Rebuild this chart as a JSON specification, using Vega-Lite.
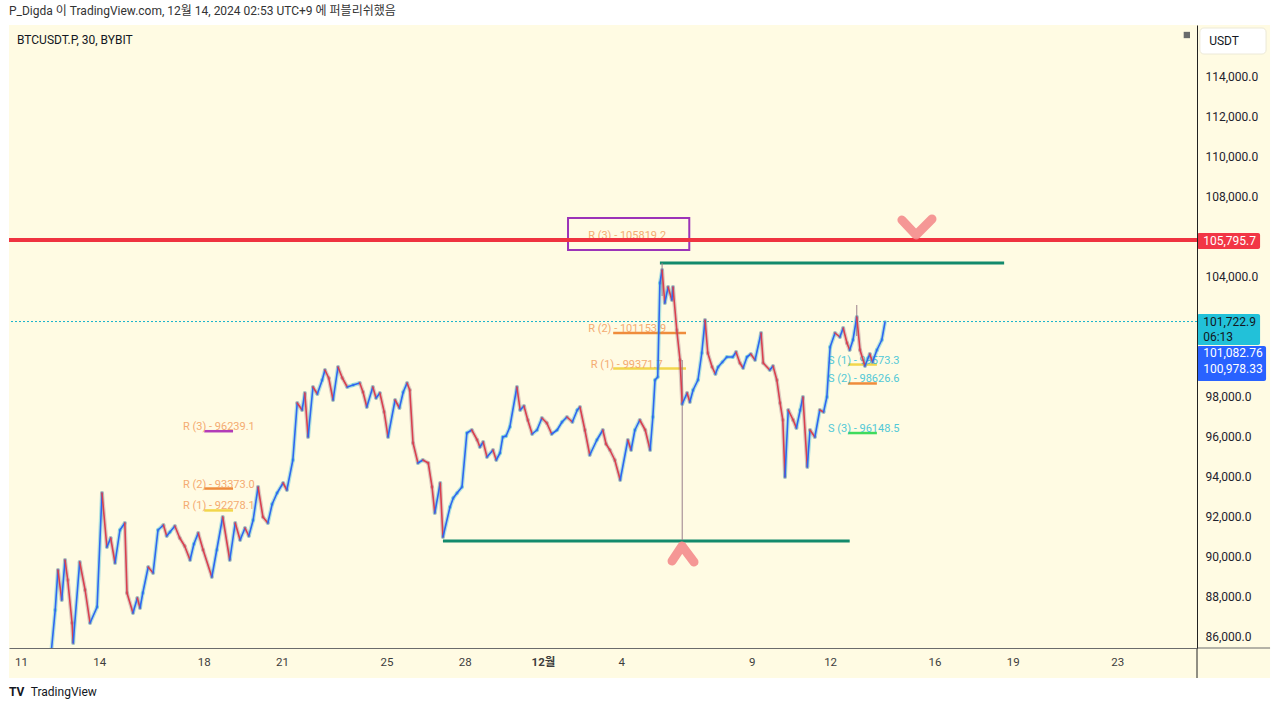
{
  "$schema": "https://vega.github.io/schema/vega-lite/v6.json",
  "width": 1188,
  "height": 623,
  "autosize": {"type": "none"},
  "padding": {"left": 9, "top": 25, "right": 83, "bottom": 61},
  "background": "#ffffff",
  "config": {
    "view": {"stroke": null, "fill": "#fffbe3"},
    "font": "Roboto, 'Noto Sans CJK KR', sans-serif",
    "axis": {"grid": false, "ticks": false, "tickSize": 0, "labelOverlap": false, "labelFlush": false}
  },
  "title": {
    "text": "P_Digda 이 TradingView.com, 12월 14, 2024 02:53 UTC+9 에 퍼블리쉬했음",
    "anchor": "start", "frame": "group", "offset": 7, "fontSize": 12, "fontWeight": "normal",
    "color": "#333333", "font": "Roboto, 'Noto Sans CJK KR', sans-serif"
  },
  "datasets": {
    "price": [
      {"t":"2024-11-10T12:00","p":79500},{"t":"2024-11-11T00:00","p":80800},{"t":"2024-11-11T08:00","p":81700},
      {"t":"2024-11-11T16:00","p":83300},{"t":"2024-11-11T23:00","p":84300},{"t":"2024-11-12T03:30","p":85000},
      {"t":"2024-11-12T07:30","p":87300},{"t":"2024-11-12T10:00","p":89300},{"t":"2024-11-12T13:30","p":87800},
      {"t":"2024-11-12T16:30","p":89800},{"t":"2024-11-12T19:00","p":88800},{"t":"2024-11-12T23:00","p":86650},
      {"t":"2024-11-13T00:00","p":85650},{"t":"2024-11-13T06:00","p":89700},{"t":"2024-11-13T11:00","p":88300},
      {"t":"2024-11-13T15:30","p":86650},{"t":"2024-11-13T22:00","p":87450},{"t":"2024-11-14T02:30","p":93150},
      {"t":"2024-11-14T07:00","p":90450},{"t":"2024-11-14T10:30","p":90900},{"t":"2024-11-14T14:30","p":89650},
      {"t":"2024-11-14T19:00","p":91300},{"t":"2024-11-14T23:30","p":91650},{"t":"2024-11-15T01:30","p":88150},
      {"t":"2024-11-15T07:00","p":87150},{"t":"2024-11-15T11:00","p":87900},{"t":"2024-11-15T13:30","p":87400},
      {"t":"2024-11-15T16:00","p":88150},{"t":"2024-11-15T21:00","p":89450},{"t":"2024-11-16T01:30","p":89150},
      {"t":"2024-11-16T06:00","p":91300},{"t":"2024-11-16T11:00","p":91550},{"t":"2024-11-16T14:00","p":91000},
      {"t":"2024-11-16T17:00","p":91200},{"t":"2024-11-16T21:30","p":91500},{"t":"2024-11-17T02:00","p":90900},
      {"t":"2024-11-17T06:30","p":90500},{"t":"2024-11-17T11:30","p":89800},{"t":"2024-11-17T15:00","p":90600},
      {"t":"2024-11-17T19:00","p":91150},{"t":"2024-11-17T23:30","p":90300},{"t":"2024-11-18T07:30","p":88950},
      {"t":"2024-11-18T12:00","p":90300},{"t":"2024-11-18T17:30","p":91950},{"t":"2024-11-19T00:00","p":89800},
      {"t":"2024-11-19T05:00","p":91650},{"t":"2024-11-19T09:30","p":90800},{"t":"2024-11-19T14:00","p":91400},
      {"t":"2024-11-19T17:30","p":91000},{"t":"2024-11-19T21:30","p":91800},{"t":"2024-11-20T02:00","p":93450},
      {"t":"2024-11-20T06:30","p":91950},{"t":"2024-11-20T11:00","p":91650},{"t":"2024-11-20T15:00","p":92600},
      {"t":"2024-11-20T19:30","p":93150},{"t":"2024-11-21T01:00","p":93650},{"t":"2024-11-21T04:30","p":93300},
      {"t":"2024-11-21T10:00","p":94800},{"t":"2024-11-21T14:00","p":97650},{"t":"2024-11-21T18:30","p":97300},
      {"t":"2024-11-21T21:00","p":98150},{"t":"2024-11-22T00:00","p":95950},{"t":"2024-11-22T04:30","p":98450},
      {"t":"2024-11-22T08:30","p":98100},{"t":"2024-11-22T13:00","p":98800},{"t":"2024-11-22T15:30","p":99300},
      {"t":"2024-11-22T19:00","p":98900},{"t":"2024-11-22T23:00","p":97800},{"t":"2024-11-23T03:30","p":99450},
      {"t":"2024-11-23T07:30","p":98900},{"t":"2024-11-23T12:00","p":98450},{"t":"2024-11-23T17:30","p":98550},
      {"t":"2024-11-23T23:30","p":98650},{"t":"2024-11-24T02:30","p":98200},{"t":"2024-11-24T06:00","p":97450},
      {"t":"2024-11-24T11:30","p":98450},{"t":"2024-11-24T14:30","p":97900},{"t":"2024-11-24T18:00","p":98150},
      {"t":"2024-11-24T22:00","p":97200},{"t":"2024-11-25T01:30","p":95950},{"t":"2024-11-25T08:00","p":97800},
      {"t":"2024-11-25T12:00","p":97400},{"t":"2024-11-25T15:30","p":98200},{"t":"2024-11-25T19:00","p":98650},
      {"t":"2024-11-25T21:30","p":98300},{"t":"2024-11-26T00:30","p":95650},{"t":"2024-11-26T05:00","p":94650},
      {"t":"2024-11-26T09:30","p":94800},{"t":"2024-11-26T14:30","p":94650},{"t":"2024-11-26T18:00","p":93450},
      {"t":"2024-11-26T20:30","p":92150},{"t":"2024-11-27T01:30","p":93650},{"t":"2024-11-27T04:00","p":90950},
      {"t":"2024-11-27T10:30","p":92450},{"t":"2024-11-27T13:30","p":92900},{"t":"2024-11-27T17:00","p":93150},
      {"t":"2024-11-27T21:30","p":93450},{"t":"2024-11-28T02:00","p":96150},{"t":"2024-11-28T06:30","p":96300},
      {"t":"2024-11-28T11:30","p":95800},{"t":"2024-11-28T14:00","p":95450},{"t":"2024-11-28T17:00","p":95700},
      {"t":"2024-11-28T20:30","p":94950},{"t":"2024-11-29T02:00","p":95300},{"t":"2024-11-29T05:00","p":94800},
      {"t":"2024-11-29T08:30","p":95150},{"t":"2024-11-29T11:00","p":95950},{"t":"2024-11-29T14:00","p":96000},
      {"t":"2024-11-29T17:30","p":96450},{"t":"2024-11-30T00:00","p":98450},{"t":"2024-11-30T03:00","p":97300},
      {"t":"2024-11-30T06:30","p":97500},{"t":"2024-11-30T10:00","p":96800},{"t":"2024-11-30T14:00","p":96100},
      {"t":"2024-11-30T18:30","p":96300},{"t":"2024-11-30T23:00","p":96900},{"t":"2024-12-01T03:30","p":96650},
      {"t":"2024-12-01T08:00","p":96100},{"t":"2024-12-01T13:00","p":96300},{"t":"2024-12-01T17:30","p":96700},
      {"t":"2024-12-01T22:00","p":96950},{"t":"2024-12-02T03:00","p":96700},{"t":"2024-12-02T07:30","p":97300},
      {"t":"2024-12-02T10:00","p":97450},{"t":"2024-12-02T14:30","p":96300},{"t":"2024-12-02T19:00","p":95050},
      {"t":"2024-12-03T01:30","p":95800},{"t":"2024-12-03T07:00","p":96300},{"t":"2024-12-03T10:00","p":95600},
      {"t":"2024-12-03T13:30","p":95300},{"t":"2024-12-03T18:00","p":94800},{"t":"2024-12-03T23:00","p":93800},
      {"t":"2024-12-04T06:00","p":95800},{"t":"2024-12-04T09:00","p":95300},{"t":"2024-12-04T12:30","p":96300},
      {"t":"2024-12-04T17:00","p":96800},{"t":"2024-12-04T22:00","p":96300},{"t":"2024-12-05T02:30","p":95300},
      {"t":"2024-12-05T05:00","p":96950},{"t":"2024-12-05T07:00","p":98800},{"t":"2024-12-05T09:30","p":98950},
      {"t":"2024-12-05T11:30","p":103650},{"t":"2024-12-05T13:30","p":104300},{"t":"2024-12-05T16:00","p":102650},
      {"t":"2024-12-05T19:00","p":103450},{"t":"2024-12-05T22:30","p":102800},{"t":"2024-12-05T23:30","p":103450},
      {"t":"2024-12-06T03:00","p":101300},{"t":"2024-12-06T06:00","p":99800},{"t":"2024-12-06T08:00","p":97600},
      {"t":"2024-12-06T12:30","p":98150},{"t":"2024-12-06T15:00","p":97700},{"t":"2024-12-06T18:00","p":98300},
      {"t":"2024-12-06T22:30","p":98800},{"t":"2024-12-07T02:00","p":100150},{"t":"2024-12-07T05:00","p":101800},
      {"t":"2024-12-07T07:30","p":100150},{"t":"2024-12-07T11:30","p":99450},{"t":"2024-12-07T14:30","p":99100},
      {"t":"2024-12-07T17:00","p":99450},{"t":"2024-12-07T21:00","p":99700},{"t":"2024-12-08T01:00","p":99950},
      {"t":"2024-12-08T06:30","p":99950},{"t":"2024-12-08T09:30","p":100200},{"t":"2024-12-08T13:00","p":99650},
      {"t":"2024-12-08T16:00","p":99400},{"t":"2024-12-08T19:30","p":99950},{"t":"2024-12-08T23:00","p":100100},
      {"t":"2024-12-09T03:00","p":99800},{"t":"2024-12-09T08:30","p":101150},{"t":"2024-12-09T10:30","p":99650},
      {"t":"2024-12-09T16:30","p":99300},{"t":"2024-12-09T19:30","p":99500},{"t":"2024-12-09T23:00","p":98800},
      {"t":"2024-12-10T02:00","p":97650},{"t":"2024-12-10T04:30","p":96800},{"t":"2024-12-10T06:30","p":93950},
      {"t":"2024-12-10T09:30","p":97300},{"t":"2024-12-10T14:00","p":96800},{"t":"2024-12-10T17:00","p":96400},
      {"t":"2024-12-10T20:30","p":97300},{"t":"2024-12-10T23:00","p":97950},{"t":"2024-12-11T03:00","p":94450},
      {"t":"2024-12-11T05:30","p":96300},{"t":"2024-12-11T10:00","p":95950},{"t":"2024-12-11T14:30","p":97300},
      {"t":"2024-12-11T18:00","p":97200},{"t":"2024-12-11T21:00","p":97950},{"t":"2024-12-12T00:00","p":100450},
      {"t":"2024-12-12T04:30","p":101150},{"t":"2024-12-12T09:00","p":100950},{"t":"2024-12-12T12:00","p":101400},
      {"t":"2024-12-12T15:30","p":100650},{"t":"2024-12-12T18:00","p":100300},{"t":"2024-12-12T21:00","p":100800},
      {"t":"2024-12-13T00:30","p":101950},{"t":"2024-12-13T03:30","p":100300},{"t":"2024-12-13T08:00","p":99500},
      {"t":"2024-12-13T12:30","p":100100},{"t":"2024-12-13T15:00","p":99700},{"t":"2024-12-13T19:00","p":100300},
      {"t":"2024-12-13T23:30","p":100800},{"t":"2024-12-14T02:30","p":101700}
    ],
    "wicks": [
      {"t":"2024-12-05T13:30","lo":103000,"hi":104650},
      {"t":"2024-12-06T08:00","lo":90800,"hi":99800},
      {"t":"2024-12-13T00:30","lo":101000,"hi":102550}
    ],
    "pivots": [
      {"label":"R (3) - 96239.1","key":"R3","side":"R","tt":"2024-11-17T05:00","t1":"2024-11-18T00:30","t2":"2024-11-19T03:00","p":96239.1},
      {"label":"R (2) - 93373.0","key":"R2","side":"R","tt":"2024-11-17T05:00","t1":"2024-11-18T00:30","t2":"2024-11-19T03:00","p":93373.0},
      {"label":"R (1) - 92278.1","key":"R1","side":"R","tt":"2024-11-17T05:00","t1":"2024-11-18T00:30","t2":"2024-11-19T03:00","p":92278.1},
      {"label":"R (3) - 105819.2","key":"R3","side":"R","tt":"2024-12-02T17:30","t1":"2024-12-03T16:30","t2":"2024-12-06T11:30","p":105819.2},
      {"label":"R (2) - 101153.9","key":"R2","side":"R","tt":"2024-12-02T17:30","t1":"2024-12-03T16:30","t2":"2024-12-06T11:30","p":101153.9},
      {"label":"R (1) - 99371.7","key":"R1","side":"R","tt":"2024-12-02T20:00","t1":"2024-12-03T16:30","t2":"2024-12-06T11:30","p":99371.7},
      {"label":"S (1) - 99573.3","key":"S1","side":"S","tt":"2024-12-11T22:00","t1":"2024-12-12T16:30","t2":"2024-12-13T19:00","p":99573.3},
      {"label":"S (2) - 98626.6","key":"S2","side":"S","tt":"2024-12-11T22:00","t1":"2024-12-12T16:30","t2":"2024-12-13T19:00","p":98626.6},
      {"label":"S (3) - 96148.5","key":"S3","side":"S","tt":"2024-12-11T22:00","t1":"2024-12-12T16:30","t2":"2024-12-13T19:00","p":96148.5}
    ],
    "zones": [
      {"t1":"2024-12-05T11:30","t2":"2024-12-18T16:00","p":104650},
      {"t1":"2024-11-27T04:00","t2":"2024-12-12T18:00","p":90750}
    ],
    "arrows": [
      {"g":"down","t":"2024-12-14T18:00","p":106800},
      {"g":"down","t":"2024-12-15T07:00","p":106050},
      {"g":"down","t":"2024-12-15T21:40","p":106850},
      {"g":"up","t":"2024-12-05T22:40","p":89750},
      {"g":"up","t":"2024-12-06T07:50","p":90500},
      {"g":"up","t":"2024-12-06T18:50","p":89700}
    ],
    "badges": [
      {"k":"red","t1":"2024-12-26T01:20","t2":"2024-12-28T11:20","top":106150,"bot":105350},
      {"k":"cyan","t1":"2024-12-26T01:20","t2":"2024-12-28T11:20","top":102100,"bot":100550},
      {"k":"blue","t1":"2024-12-26T01:20","t2":"2024-12-28T16:50","top":100500,"bot":98750}
    ],
    "tags": [
      {"txt":"105,795.7","t":"2024-12-26T07:00","p":105750,"k":"w"},
      {"txt":"101,722.9","t":"2024-12-26T07:00","p":101700,"k":"d"},
      {"txt":"06:13","t":"2024-12-26T07:00","p":100950,"k":"d"},
      {"txt":"101,082.76","t":"2024-12-26T07:00","p":100150,"k":"w"},
      {"txt":"100,978.33","t":"2024-12-26T07:00","p":99350,"k":"w"}
    ]
  },
  "layer": [
    {
      "data": {"values": [{"t1":"2024-11-10T13:00","t2":"2024-12-28T20:30","p1":83900,"p2":116550}]},
      "mark": {"type": "rect", "fill": "#fffbe3", "clip": false},
      "encoding": {
        "x": {"field": "t1", "type": "temporal"},
        "x2": {"field": "t2"},
        "y": {"field": "p1", "type": "quantitative"},
        "y2": {"field": "p2"}
      }
    },
    {
      "data": {"values": [{"p": 101722.9}]},
      "mark": {"type": "rule", "stroke": "#17b3cc", "strokeWidth": 1, "strokeDash": [2, 2]},
      "encoding": {"y": {"field": "p", "type": "quantitative"}}
    },
    {
      "data": {"values": [{"t1":"2024-12-01T23:00","t2":"2024-12-06T14:30","p1":105300,"p2":106900}]},
      "mark": {"type": "rect", "fillOpacity": 0, "stroke": "#9c33b8", "strokeWidth": 2},
      "encoding": {
        "x": {"field": "t1", "type": "temporal"},
        "x2": {"field": "t2"},
        "y": {"field": "p1", "type": "quantitative"},
        "y2": {"field": "p2"}
      }
    },
    {
      "data": {"name": "pivots"},
      "mark": {"type": "rule", "strokeWidth": 2.5},
      "encoding": {
        "x": {"field": "t1", "type": "temporal"},
        "x2": {"field": "t2"},
        "y": {"field": "p", "type": "quantitative"},
        "stroke": {"field": "key", "type": "nominal", "legend": null,
          "scale": {"domain": ["R3", "R2", "R1", "S1", "S2", "S3"], "range": ["#b23cb8", "#ef8c3c", "#f2d64b", "#f2d64b", "#ef8c3c", "#3fdb5c"]}}
      }
    },
    {
      "data": {"name": "pivots"},
      "mark": {"type": "text", "align": "left", "baseline": "alphabetic", "dy": -1, "fontSize": 11, "font": "Roboto, sans-serif", "opacity": 0.9},
      "encoding": {
        "x": {"field": "tt", "type": "temporal"},
        "y": {"field": "p", "type": "quantitative"},
        "text": {"field": "label", "type": "nominal"},
        "fill": {"field": "side", "type": "nominal", "legend": null, "scale": {"domain": ["R", "S"], "range": ["#f4a366", "#3ec4d6"]}}
      }
    },
    {
      "data": {"name": "zones"},
      "mark": {"type": "rule", "stroke": "#138a6c", "strokeWidth": 3},
      "encoding": {
        "x": {"field": "t1", "type": "temporal"},
        "x2": {"field": "t2"},
        "y": {"field": "p", "type": "quantitative"}
      }
    },
    {
      "data": {"name": "wicks"},
      "mark": {"type": "rule", "stroke": "#9a7f8c", "strokeWidth": 1, "clip": true},
      "encoding": {
        "x": {"field": "t", "type": "temporal"},
        "y": {"field": "lo", "type": "quantitative"},
        "y2": {"field": "hi"}
      }
    },
    {
      "data": {"name": "price"},
      "transform": [
        {"window": [{"op": "lead", "field": "p", "as": "p2"}, {"op": "lead", "field": "t", "as": "t2"}], "sort": [{"field": "t"}]},
        {"filter": "datum.p2 != null"}
      ],
      "mark": {"type": "rule", "strokeWidth": 4, "clip": true, "strokeCap": "round", "opacity": 0.35},
      "encoding": {
        "x": {"field": "t", "type": "temporal"},
        "x2": {"field": "t2"},
        "y": {"field": "p", "type": "quantitative"},
        "y2": {"field": "p2"},
        "color": {"condition": {"test": "datum.p2 >= datum.p", "value": "#22b5d0"}, "value": "#9a7480"}
      }
    },
    {
      "data": {"name": "price"},
      "transform": [
        {"window": [{"op": "lead", "field": "p", "as": "p2"}, {"op": "lead", "field": "t", "as": "t2"}], "sort": [{"field": "t"}]},
        {"filter": "datum.p2 != null"}
      ],
      "mark": {"type": "rule", "strokeWidth": 1.6, "clip": true, "strokeCap": "round"},
      "encoding": {
        "x": {"field": "t", "type": "temporal",
          "scale": {"domain": [{"year": 2024, "month": "nov", "date": 10, "hours": 13}, {"year": 2024, "month": "dec", "date": 26, "hours": 1, "minutes": 20}], "nice": false},
          "axis": {"title": null, "orient": "bottom", "zindex": 2, "domainColor": "#6b6b6b", "domainWidth": 1,
            "labelColor": "#3d3d3d", "labelFontSize": 11.5, "labelPadding": 8, "labelFont": "Roboto, 'Noto Sans CJK KR', sans-serif",
            "values": [
              {"year": 2024, "month": "nov", "date": 11}, {"year": 2024, "month": "nov", "date": 14},
              {"year": 2024, "month": "nov", "date": 18}, {"year": 2024, "month": "nov", "date": 21},
              {"year": 2024, "month": "nov", "date": 25}, {"year": 2024, "month": "nov", "date": 28},
              {"year": 2024, "month": "dec", "date": 1}, {"year": 2024, "month": "dec", "date": 4},
              {"year": 2024, "month": "dec", "date": 9}, {"year": 2024, "month": "dec", "date": 12},
              {"year": 2024, "month": "dec", "date": 16}, {"year": 2024, "month": "dec", "date": 19},
              {"year": 2024, "month": "dec", "date": 23}],
            "labelExpr": "month(datum.value) == 11 && date(datum.value) == 1 ? '12월' : '' + date(datum.value)",
            "labelFontWeight": {"condition": {"test": "month(datum.value) == 11 && date(datum.value) == 1", "value": "bold"}, "value": "normal"}}},
        "x2": {"field": "t2"},
        "y": {"field": "p", "type": "quantitative",
          "scale": {"domain": [85400, 116550], "nice": false, "zero": false},
          "axis": {"title": null, "orient": "right", "zindex": 2, "domainColor": "#222222", "domainWidth": 1,
            "labelColor": "#1e222d", "labelFontSize": 12, "labelPadding": 8, "labelAlign": "left", "format": ",.1f",
            "values": [86000, 88000, 90000, 92000, 94000, 96000, 98000, 104000, 108000, 110000, 112000, 114000]}},
        "y2": {"field": "p2"},
        "color": {"condition": {"test": "datum.p2 >= datum.p", "value": "#2f66f0"}, "value": "#d9404f"}
      }
    },
    {
      "data": {"values": [{"p": 105795.7}]},
      "mark": {"type": "rule", "stroke": "#ef3340", "strokeWidth": 4},
      "encoding": {"y": {"field": "p", "type": "quantitative"}}
    },
    {
      "data": {"name": "arrows"},
      "mark": {"type": "line", "stroke": "#f48c8c", "strokeWidth": 9, "strokeCap": "round", "strokeJoin": "round", "opacity": 0.9},
      "encoding": {
        "x": {"field": "t", "type": "temporal"},
        "y": {"field": "p", "type": "quantitative"},
        "detail": {"field": "g", "type": "nominal"}
      }
    },
    {
      "data": {"name": "badges"},
      "mark": {"type": "rect", "clip": false, "cornerRadius": 2},
      "encoding": {
        "x": {"field": "t1", "type": "temporal"},
        "x2": {"field": "t2"},
        "y": {"field": "top", "type": "quantitative"},
        "y2": {"field": "bot"},
        "color": {"field": "k", "type": "nominal", "legend": null, "scale": {"domain": ["red", "cyan", "blue"], "range": ["#f23645", "#22c1d9", "#2962ff"]}}
      }
    },
    {
      "data": {"name": "tags"},
      "mark": {"type": "text", "align": "left", "baseline": "middle", "fontSize": 12, "clip": false, "font": "Roboto, sans-serif"},
      "encoding": {
        "x": {"field": "t", "type": "temporal"},
        "y": {"field": "p", "type": "quantitative"},
        "text": {"field": "txt", "type": "nominal"},
        "fill": {"condition": {"test": "datum.k == 'd'", "value": "#131722"}, "value": "#ffffff"}
      }
    },
    {
      "data": {"values": [{"t1":"2024-12-26T04:00","t2":"2024-12-28T16:50","p1":116400,"p2":115100}]},
      "mark": {"type": "rect", "fill": "#ffffff", "stroke": "#ece9d8", "strokeWidth": 1, "cornerRadius": 4, "clip": false},
      "encoding": {
        "x": {"field": "t1", "type": "temporal"},
        "x2": {"field": "t2"},
        "y": {"field": "p1", "type": "quantitative"},
        "y2": {"field": "p2"}
      }
    },
    {
      "data": {"values": [
        {"txt":"USDT","t":"2024-12-26T12:30","p":115750},
        {"txt":"BTCUSDT.P, 30, BYBIT","t":"2024-11-10T20:20","p":115800},
        {"txt":"TradingView","t":"2024-11-11T09:00","p":83200}
      ]},
      "mark": {"type": "text", "align": "left", "baseline": "middle", "fontSize": 12, "fill": "#131722", "clip": false},
      "encoding": {
        "x": {"field": "t", "type": "temporal"},
        "y": {"field": "p", "type": "quantitative"},
        "text": {"field": "txt", "type": "nominal"}
      }
    },
    {
      "data": {"values": [{"txt":"TV","t":"2024-11-10T13:00","p":83200}]},
      "mark": {"type": "text", "align": "left", "baseline": "middle", "fontSize": 12, "fontWeight": "bold", "fill": "#131722", "clip": false},
      "encoding": {
        "x": {"field": "t", "type": "temporal"},
        "y": {"field": "p", "type": "quantitative"},
        "text": {"field": "txt", "type": "nominal"}
      }
    },
    {
      "data": {"values": [{"t":"2024-12-25T16:00","p":116050}]},
      "mark": {"type": "point", "shape": "square", "filled": true, "size": 40, "color": "#2a2e39"},
      "encoding": {
        "x": {"field": "t", "type": "temporal"},
        "y": {"field": "p", "type": "quantitative"}
      }
    },
    {
      "data": {"values": [{"t":"2024-12-26T01:20","p1":85400,"p2":83900}]},
      "mark": {"type": "rule", "stroke": "#222222", "strokeWidth": 1, "clip": false},
      "encoding": {
        "x": {"field": "t", "type": "temporal"},
        "y": {"field": "p1", "type": "quantitative"},
        "y2": {"field": "p2"}
      }
    },
    {
      "data": {"values": [{"t1":"2024-12-26T01:20","t2":"2024-12-28T20:30","p":85400}]},
      "mark": {"type": "rule", "stroke": "#6b6b6b", "strokeWidth": 1, "clip": false},
      "encoding": {
        "x": {"field": "t1", "type": "temporal"},
        "x2": {"field": "t2"},
        "y": {"field": "p", "type": "quantitative"}
      }
    }
  ]
}
